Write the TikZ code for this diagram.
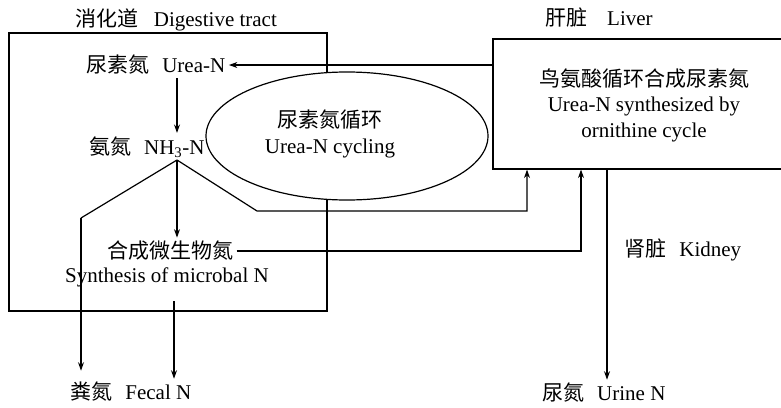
\documentclass[tikz,border=0pt]{standalone}
\usepackage{fontspec}
\setmainfont{Liberation Serif}
\newfontfamily\cjkfont{Noto Sans CJK SC}
\usetikzlibrary{arrows.meta,shapes.geometric,calc}
\newcommand\zhtext[1]{{\cjkfont #1}}
\begin{document}
\begin{tikzpicture}[x=1pt,y=-1pt,line width=1.2pt,
  lbl/.style={font=\fontsize{21}{25.5}\selectfont, inner sep=3pt, align=center},
  arr/.style={-{Stealth[length=8.5pt,width=6pt]}}]
\clip (0,0) rectangle (781,407);
% boxes
\node[draw, minimum width=318pt, minimum height=278pt, inner sep=0pt] (gut) at (168,172) {};
\node[draw, fill=white, ellipse, minimum width=282pt, minimum height=128pt, inner sep=0pt] (cyc) at (347,136) {};
\node[lbl] (cyctext) at (330,134) {\zhtext{尿素氮循环}\\Urea-N cycling};
\node[draw, minimum width=310pt, minimum height=130pt, inner sep=0pt] (liverbox) at (648,104) {};
\node[lbl] (livertext) at (644,105) {\zhtext{鸟氨酸循环合成尿素氮}\\Urea-N synthesized by\\ornithine cycle};
% labels
\node[lbl] (guttitle) at (176,20) {\zhtext{消化道}\hspace{0.75em}Digestive tract};
\node[lbl] (livertitle) at (599,18) {\zhtext{肝脏}\hspace{0.95em}Liver};
\node[lbl] (urea) at (156,65) {\zhtext{尿素氮}\hspace{0.6em}Urea-N};
\node[lbl] (nh3) at (147,147) {\zhtext{氨氮}\hspace{0.6em}NH\textsubscript{3}-N};
\node[lbl] (syncn) at (170,251) {\zhtext{合成微生物氮}};
\node[lbl] (synen) at (167,277) {Synthesis of microbal N};
\node[lbl] (fecal) at (131,392) {\zhtext{粪氮}\hspace{0.6em}Fecal N};
\node[lbl] (kidney) at (683,250) {\zhtext{肾脏}\hspace{0.6em}Kidney};
\node[lbl] (urine) at (604,393) {\zhtext{尿氮}\hspace{0.6em}Urine N};
% junctions
\coordinate (apex) at (177,160);
\coordinate (lb) at (81,218);
\coordinate (rb) at (257,211);
\coordinate (rt) at (527,211);
\coordinate (mx) at (581,249);
\coordinate (kx) at (607,0);
\coordinate (fx) at (174,0);
% connectors
\draw[arr] (liverbox.west |- urea.east) -- (urea.east);
\draw[arr] (urea.south -| apex) -- (nh3.north -| apex);
\draw (apex) -- (lb);
\draw[arr] (lb) -- ([yshift=8pt]lb |- fecal.north);
\draw[arr] (apex) -- (syncn.north -| apex);
\draw[arr] (apex) -- (rb) -- (rt) -- (liverbox.south -| rt);
\draw[arr] (syncn.east) -- (syncn.east -| mx) -- (liverbox.south -| mx);
\draw[arr, shorten <=11pt] (synen.south -| fx) -- (fecal.north -| fx);
\draw[arr] (liverbox.south -| kx) -- (urine.north -| kx);
\end{tikzpicture}
\end{document}
